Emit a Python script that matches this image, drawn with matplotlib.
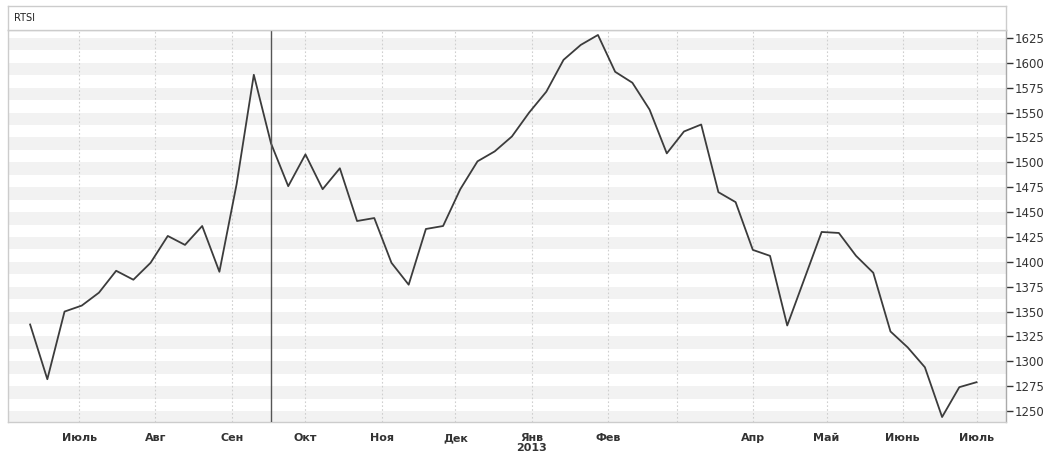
import matplotlib
matplotlib.use("Agg")
import matplotlib.pyplot as plt
import matplotlib.dates as mdates
import numpy as np
import pandas as pd

# ---- data ----
title = "RTSI"
dates = pd.date_range("2012-06-11", periods=56, freq="7D")
values = [1337, 1282, 1350, 1356, 1369, 1391, 1382, 1399, 1426, 1417,
          1436, 1390, 1478, 1588, 1519, 1476, 1508, 1473, 1494, 1441,
          1444, 1399, 1377, 1433, 1436, 1473, 1501, 1511, 1526, 1550,
          1571, 1603, 1618, 1628, 1591, 1580, 1553, 1509, 1531, 1538,
          1470, 1460, 1412, 1406, 1336, 1383, 1430, 1429, 1406, 1389,
          1330, 1314, 1294, 1244, 1274, 1279]
month_ticks = pd.date_range("2012-07-01", "2013-07-01", freq="MS")
month_labels = ["Июль", "Авг", "Сен", "Окт", "Ноя", "Дек", "Янв\n2013",
                "Фев", "", "Апр", "Май", "Июнь", "Июль"]
y_ticks = list(range(1250, 1626, 25))
cursor_date = pd.Timestamp("2012-09-17")

W, H = 1053, 454
fig = plt.figure(figsize=(W / 100, H / 100), dpi=100)
fig.patch.set_facecolor("white")

L, R, T, B = 8, 1006, 30, 422
ax = fig.add_axes([L / W, (H - B) / H, (R - L) / W, (B - T) / H])

# header box
hd = fig.add_axes([L / W, (H - T) / H, (R - L) / W, (T - 6) / H])
hd.set_xticks([]); hd.set_yticks([])
for s in hd.spines.values():
    s.set_color("#cccccc"); s.set_linewidth(1)
hd.text(6 / (R - L), 0.5, title, transform=hd.transAxes, va="center",
        ha="left", fontsize=7, color="#222222")

ymin, ymax = 1239, 1633
ax.set_ylim(ymin, ymax)
ax.set_xlim(pd.Timestamp("2012-06-02"), pd.Timestamp("2013-07-13"))

for v in y_ticks:
    ax.axhspan(v - 12.5, v, color="#f2f2f2", lw=0, zorder=0)

for d in month_ticks:
    ax.axvline(d, color="#cfcfcf", lw=0.8, ls=(0, (1.5, 2)), zorder=1)

ax.plot(dates, values, color="#3c3c3c", lw=1.3, zorder=3)
ax.axvline(cursor_date, color="#555555", lw=1.0, zorder=4)

ax.yaxis.tick_right()
ax.set_yticks(y_ticks)
ax.set_yticklabels([str(v) for v in y_ticks])
ax.tick_params(axis="y", direction="out", length=5, width=1, color="#333333",
               labelsize=8.5, labelcolor="#333333", pad=1)

ax.set_xticks(month_ticks)
ax.set_xticklabels(month_labels)
ax.tick_params(axis="x", length=0, labelsize=8, labelcolor="#333333", pad=8)
for lbl in ax.get_xticklabels():
    lbl.set_fontweight("bold")
    lbl.set_linespacing(1.0)

for name, s in ax.spines.items():
    s.set_color("#cccccc"); s.set_linewidth(1)
ax.spines["right"].set_color("#aaaaaa")

fig.savefig("out.png", dpi=100, facecolor="white")
